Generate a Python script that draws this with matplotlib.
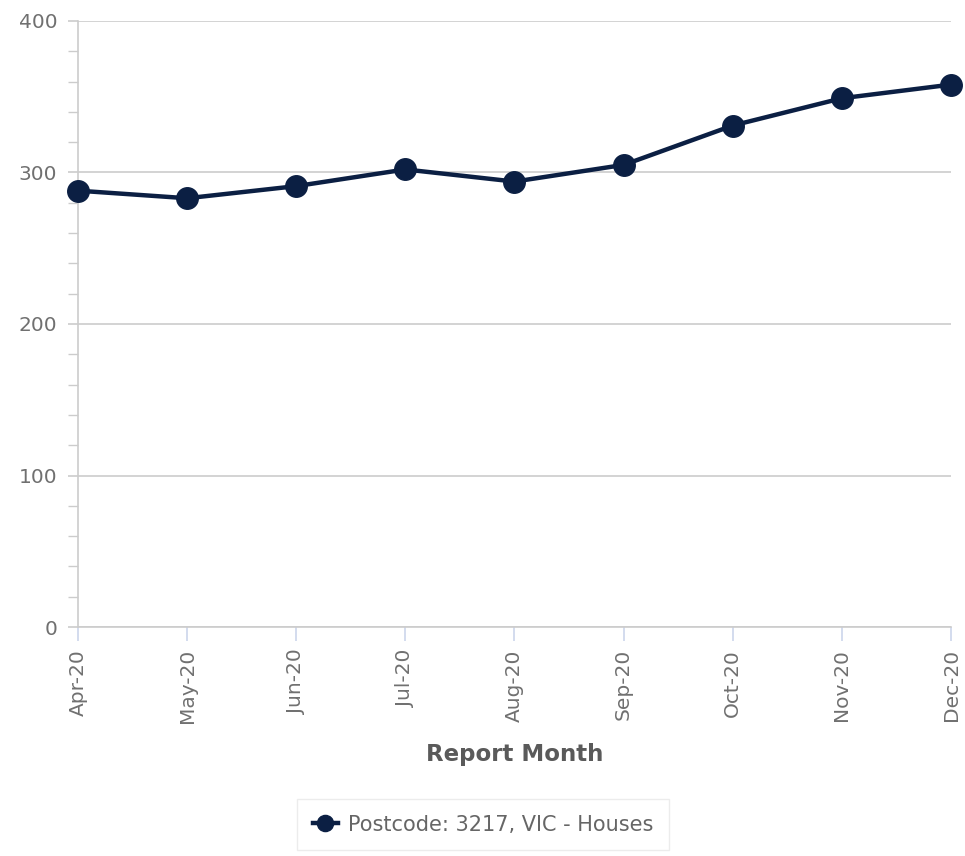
import matplotlib
matplotlib.use("Agg")
import matplotlib.pyplot as plt
from matplotlib.ticker import MultipleLocator

months = ["Apr-20", "May-20", "Jun-20", "Jul-20", "Aug-20", "Sep-20", "Oct-20", "Nov-20", "Dec-20"]
values = [288, 283, 291, 302, 294, 305, 331, 349, 358]
series_name = "Postcode: 3217, VIC - Houses"

plt.rcParams['font.family'] = ['DejaVu Sans']
fig = plt.figure(figsize=(9.65, 8.56), dpi=100)
ax = fig.add_axes([0.0808, 0.2675, 0.9047, 0.708])

color = "#0b1f43"
x = list(range(len(months)))
ax.plot(x, values, color=color, lw=3.2, marker="o", markersize=15.5, label=series_name, zorder=3, clip_on=False)

ax.set_xlim(0, len(months) - 1)
ax.set_ylim(0, 400)
ax.yaxis.set_major_locator(MultipleLocator(100))
ax.yaxis.set_minor_locator(MultipleLocator(20))
ax.set_xticks(x)
ax.set_xticklabels(months, rotation=90)

ax.grid(axis="y", which="major", color="#cccccc", lw=1.2)
ax.set_axisbelow(True)
for s in ["top", "right"]:
    ax.spines[s].set_visible(False)
ax.spines["left"].set_color("#cccccc")
ax.spines["left"].set_linewidth(1.2)
ax.spines["bottom"].set_color("#cccccc")
ax.spines["bottom"].set_linewidth(1.2)

ax.tick_params(axis="y", which="major", length=7, color="#cccccc", width=1.2, labelsize=14.5, labelcolor="#707070", pad=8)
ax.tick_params(axis="y", which="minor", length=7, color="#cccccc", width=1.0)
ax.tick_params(axis="x", length=10, color="#ccd6eb", width=1.2, labelsize=14.5, labelcolor="#707070", pad=6)

ax.set_xlabel("Report Month", fontsize=16.5, fontweight="bold", color="#5a5a5a", labelpad=14)

leg = fig.legend(loc="center", bbox_to_anchor=(0.5005, 0.0365), frameon=True, fontsize=15,
                 handlelength=1.2, borderpad=0.75, fancybox=False, markerscale=0.75, labelcolor="#666666",
                 handletextpad=0.5)
leg.get_frame().set_edgecolor("#e8e8e8")
leg.get_frame().set_linewidth(1.0)

fig.savefig("out.png", dpi=100)
